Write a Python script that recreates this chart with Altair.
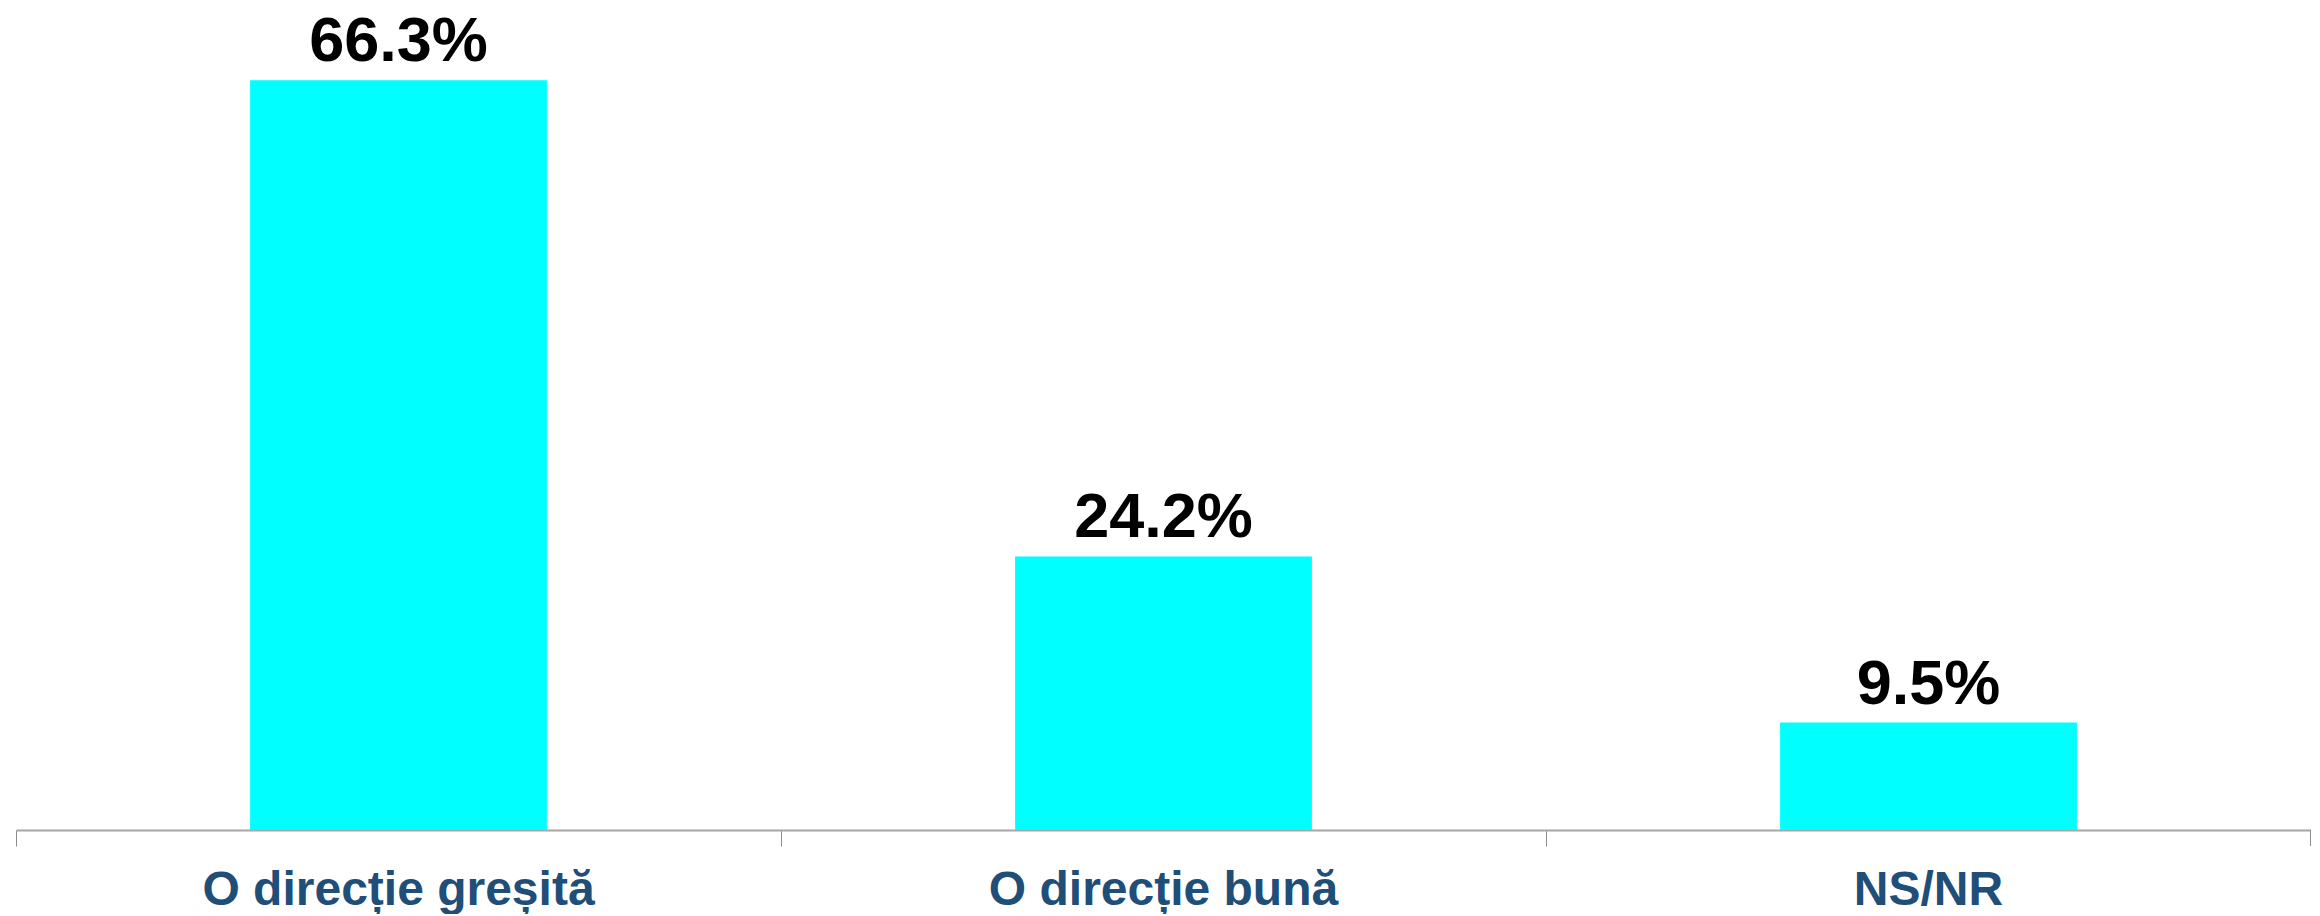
import altair as alt
import pandas as pd

categories = ["O direcție greșită", "O direcție bună", "NS/NR"]
values = [66.3, 24.2, 9.5]
labels = ["66.3%", "24.2%", "9.5%"]

df = pd.DataFrame({"cat": categories, "val": values, "lab": labels})

W = 2295
H = 822

x = alt.X(
    "cat:N",
    sort=categories,
    scale=alt.Scale(paddingInner=0, paddingOuter=0),
    axis=alt.Axis(
        title=None,
        labelAngle=0,
        bandPosition=0,
        labelFont="Liberation Sans",
        labelFontSize=48,
        labelFontWeight="bold",
        labelColor="#1F4E79",
        labelPadding=20,
        labelBaseline="top",
        labelLimit=0,
        tickSize=16,
        tickColor="#8C8C8C",
        tickWidth=1,
        domainColor="#A6A6A6",
        domainWidth=2,
        labelFlush=False,
        labelOverlap=False,
        labelBound=False,
    ),
)
y = alt.Y("val:Q", scale=alt.Scale(domain=[0, 72.7], nice=False, zero=True), axis=None)

bars = alt.Chart(df).mark_bar(color="#00FFFF", width=alt.RelativeBandSize(0.388)).encode(x=x, y=y)

text = alt.Chart(df).mark_text(
    font="Liberation Sans",
    fontSize=63,
    fontWeight="bold",
    color="#000000",
    baseline="alphabetic",
    dy=-19,
).encode(x=alt.X("cat:N", sort=categories), y="val:Q", text="lab:N")

end_tick = alt.Chart(df.head(1)).mark_rule(color="#8C8C8C", strokeWidth=1).encode(
    x=alt.value(W - 0.5), y=alt.value(H), y2=alt.value(H + 16)
)

chart = (
    alt.layer(bars, text, end_tick)
    .properties(width=W, height=H, padding={"left": 7, "top": 0, "right": 0, "bottom": 0})
    .configure_view(stroke=None)
)

chart.save("out.html", embed_options={"renderer": "svg", "actions": False})
